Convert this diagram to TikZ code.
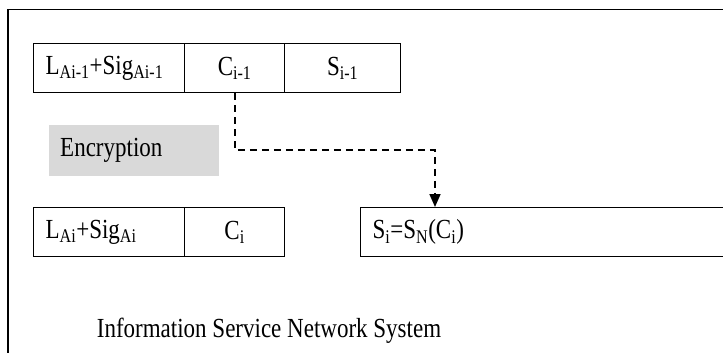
\documentclass[tikz,border=0pt]{standalone}
\usepackage{fontspec}
\usepackage{graphicx}
\setmainfont{Liberation Serif}
\usetikzlibrary{arrows.meta}
\newcommand{\tallx}[1]{\scalebox{1}[1.2]{#1}}
\tikzset{
  cell/.style={draw=black, line width=1.3pt, rectangle, anchor=north west,
    minimum height=49pt, inner sep=0pt, font=\fontsize{23}{27}\selectfont},
  lcell/.style={cell, align=left, text width=#1, inner xsep=12pt},
  ccell/.style={cell, minimum width=#1, align=center},
  encbox/.style={fill=encgray, rectangle, anchor=north west, minimum width=170pt,
    minimum height=51pt, inner xsep=11pt, inner ysep=0pt, text width=148pt, align=left,
    font=\fontsize{23}{27}\selectfont},
  frame/.style={line width=1.9pt, draw=black},
  flowarrow/.style={line width=1.7pt, dash pattern=on 7pt off 5pt,
    -{Triangle[length=13pt,width=11pt]}},
  title/.style={font=\fontsize{23}{27}\selectfont, anchor=base}
}
\definecolor{encgray}{HTML}{D9D9D9}
\begin{document}
\begin{tikzpicture}[x=1pt, y=-1pt]
\useasboundingbox (0,0) rectangle (723,353);
\clip (0,0) rectangle (723,353);
% outer frame (extends beyond the visible area)
\draw[frame] (8,400) -- (8,9.5) -- (760,9.5);
% top row
\node[lcell=127pt, minimum width=151pt] (lprev) at (33,43) {\tallx{L\textsubscript{Ai-1}+Sig\textsubscript{Ai-1}}};
\node[ccell=100pt] (cprev) at (184,43) {\tallx{C\textsubscript{i-1}}};
\node[ccell=116pt] (sprev) at (284,43) {\tallx{S\textsubscript{i-1}}};
% encryption
\node[encbox] (enc) at (49,125) {\tallx{Encryption}};
% bottom row
\node[lcell=127pt, minimum width=151pt] (lcur) at (33,207) {\tallx{L\textsubscript{Ai}+Sig\textsubscript{Ai}}};
\node[ccell=100pt] (ccur) at (184,207) {\tallx{C\textsubscript{i}}};
\node[lcell=396pt, minimum width=420pt] (si) at (360,207) {\tallx{S\textsubscript{i}=S\textsubscript{N}(C\textsubscript{i})}};
% connector
\coordinate (turn) at (435,150);
\draw[flowarrow] (cprev.south) |- (turn) -- ([xshift=75pt]si.north west);
% title
\node[title] (sys) at (269,337) {\tallx{Information Service Network System}};
\end{tikzpicture}
\end{document}
